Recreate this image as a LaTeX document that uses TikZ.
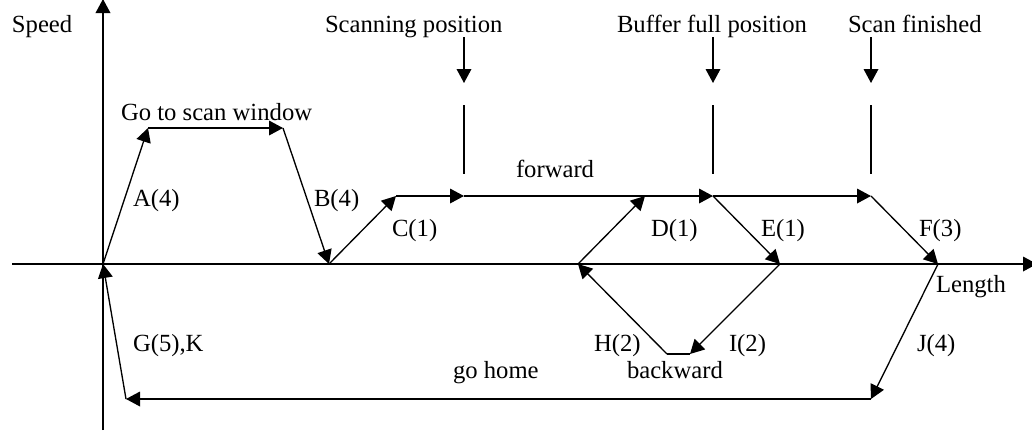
\documentclass[tikz,border=0pt]{standalone}
\usepackage{fontspec}
\setmainfont{Liberation Serif}
\usetikzlibrary{arrows.meta}
\tikzset{
  x=0.75pt,y=-0.75pt,
  seg/.style={draw=black,line width=1pt,line cap=butt,line join=miter},
  arr/.style={seg,-{Triangle[length=10.5pt,width=11pt]}},
  lbl/.style={anchor=base west,inner sep=0pt,outer sep=0pt,font=\fontsize{18.5pt}{22pt}\selectfont,text=black}
}
\begin{document}
\begin{tikzpicture}
\useasboundingbox (0,0) rectangle (1032,430);
\clip (0,0) rectangle (1032,430);
% axes
\coordinate (O) at (103,264);
\coordinate (ybot) at (103,430);
\coordinate (ytop) at (103,-1);
\coordinate (xl) at (12,264);
\coordinate (xr) at (1037,264);
% profile points
\coordinate (a1) at (148,128);
\coordinate (a2) at (283,128);
\coordinate (b) at (329,264);
\coordinate (c) at (396,196);
\coordinate (s) at (464,196);
\coordinate (m) at (713,196);
\coordinate (f) at (871,196);
\coordinate (d0) at (578,264);
\coordinate (d1) at (645,196);
\coordinate (e) at (780,264);
\coordinate (l) at (938,264);
\coordinate (i) at (690,354);
\coordinate (h) at (667,354);
\coordinate (j) at (871,399);
\coordinate (g) at (126,399);
% markers
\coordinate (s1) at (464,37); \coordinate (s2) at (464,83); \coordinate (s3) at (464,105); \coordinate (s4) at (464,174);
\coordinate (m1) at (713,37); \coordinate (m2) at (713,83); \coordinate (m3) at (713,105); \coordinate (m4) at (713,174);
\coordinate (f1) at (871,37); \coordinate (f2) at (871,83); \coordinate (f3) at (871,105); \coordinate (f4) at (871,174);
\draw[arr] (ybot) -- (ytop);
\draw[arr] (xl) -- (xr);
\draw[arr] (O) -- (a1);
\draw[arr] (a1) -- (a2);
\draw[arr] (a2) -- (b);
\draw[arr] (b) -- (c);
\draw[arr] (c) -- (s);
\draw[arr] (s) -- (m);
\draw[arr] (m) -- (f);
\draw[arr] (f) -- (l);
\draw[arr] (d0) -- (d1);
\draw[arr] (m) -- (e);
\draw[arr] (e) -- (i);
\draw[seg] (i) -- (h);
\draw[arr] (h) -- (d0);
\draw[arr] (l) -- (j);
\draw[arr] (j) -- (g);
\draw[arr] (g) -- (O);
\draw[arr] (s1) -- (s2); \draw[seg] (s3) -- (s4);
\draw[arr] (m1) -- (m2); \draw[seg] (m3) -- (m4);
\draw[arr] (f1) -- (f2); \draw[seg] (f3) -- (f4);
% labels
\node[lbl] (t1) at (12,32) {Speed};
\node[lbl] (t2) at (325,32) {Scanning position};
\node[lbl] (t3) at (617,32) {Buffer full position};
\node[lbl] (t4) at (848,32) {Scan finished};
\node[lbl] (t5) at (121,120) {Go to scan window};
\node[lbl] (t6) at (133,206) {A(4)};
\node[lbl] (t7) at (314,206) {B(4)};
\node[lbl] (t8) at (516,177) {forward};
\node[lbl] (t9) at (392,236) {C(1)};
\node[lbl] (t10) at (651,236) {D(1)};
\node[lbl] (t11) at (761,236) {E(1)};
\node[lbl] (t12) at (919,236) {F(3)};
\node[lbl] (t13) at (936,292) {Length};
\node[lbl] (t14) at (133,351) {G(5),K};
\node[lbl] (t15) at (594,351) {H(2)};
\node[lbl] (t16) at (729,351) {I(2)};
\node[lbl] (t17) at (917,351) {J(4)};
\node[lbl] (t18) at (453,378) {go home};
\node[lbl] (t19) at (627,378) {backward};
\end{tikzpicture}
\end{document}
